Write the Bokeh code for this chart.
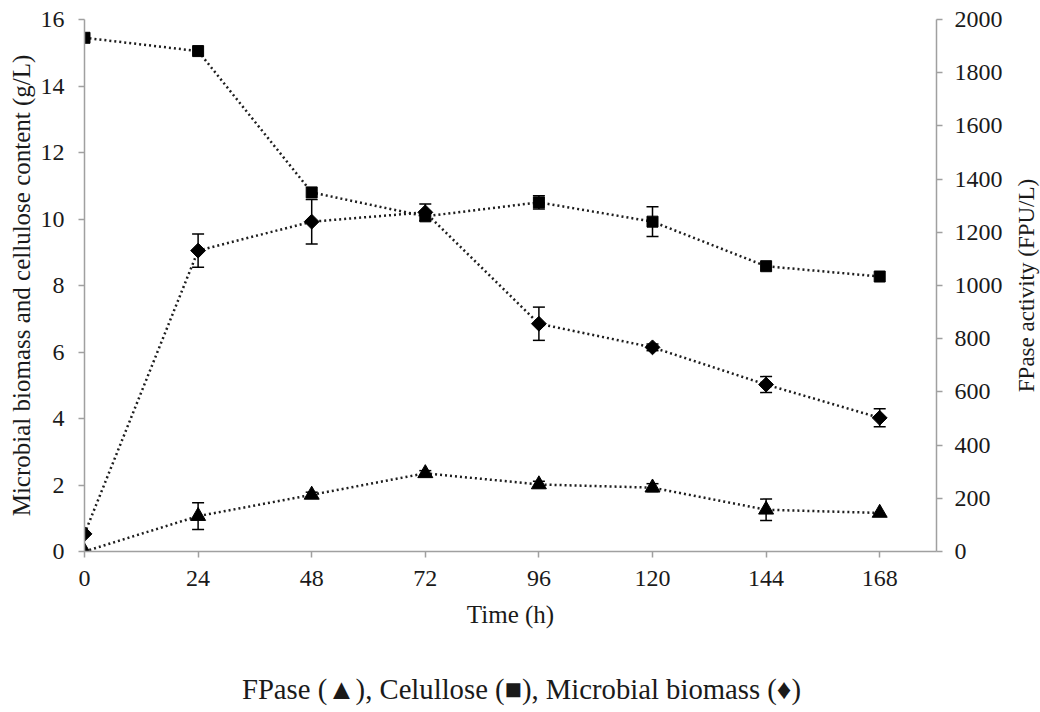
import math
from bokeh.plotting import figure
from bokeh.models import (Range1d, LinearAxis, FixedTicker, Whisker, TeeHead,
                          ColumnDataSource, Label)
from bokeh.embed import file_html
from bokeh.resources import INLINE

# ---------------- data ----------------
hours = [0, 24, 48, 72, 96, 120, 144, 168]
x_ticks = [0, 24, 48, 72, 96, 120, 144, 168]
left_ticks = [0, 2, 4, 6, 8, 10, 12, 14, 16]
right_ticks = [0, 200, 400, 600, 800, 1000, 1200, 1400, 1600, 1800, 2000]

cellulose = [15.45, 15.05, 10.8, 10.08, 10.5, 9.92, 8.58, 8.27]
cellulose_err = [0, 0, 0, 0, 0.2, 0.45, 0, 0]

biomass = [0.53, 9.05, 9.92, 10.2, 6.85, 6.14, 5.02, 4.02]
biomass_err = [0, 0.5, 0.67, 0.25, 0.5, 0.1, 0.24, 0.27]

fpase = [0, 133, 213, 294, 252, 240, 157, 145]
fpase_err = [0, 50, 10, 10, 12, 15, 40, 0]

x_title = "Time (h)"
left_title = "Microbial biomass and cellulose content (g/L)"
right_title = "FPase activity (FPU/L)"
caption = "FPase (\u25b2), Celullose (\u25a0), Microbial biomass (\u2666)"

FONT = "Liberation Serif"
AXIS_COLOR = "#a0a0a0"
LINE_COLOR = "#1e1e1e"
TEXT_COLOR = "#1a1a1a"

p = figure(width=1040, height=708, output_backend="svg", toolbar_location=None,
           x_range=Range1d(0, 180), y_range=Range1d(0, 16),
           min_border_left=84, min_border_right=104, min_border_top=19,
           min_border_bottom=157)
p.outline_line_color = None
p.grid.visible = False
p.background_fill_color = "white"
p.border_fill_color = "white"

p.xaxis.ticker = FixedTicker(ticks=x_ticks)
p.yaxis.ticker = FixedTicker(ticks=left_ticks)

p.extra_y_ranges = {"fp": Range1d(0, 2000)}
raxis = LinearAxis(y_range_name="fp", ticker=FixedTicker(ticks=right_ticks))
p.add_layout(raxis, "right")

for ax in p.axis:
    ax.axis_line_color = AXIS_COLOR
    ax.axis_line_width = 1.5
    ax.major_tick_line_color = AXIS_COLOR
    ax.major_tick_line_width = 1.5
    ax.major_tick_in = 0
    ax.major_tick_out = 6
    ax.minor_tick_line_color = None
    ax.major_label_text_font = FONT
    ax.major_label_text_font_size = "24px"
    ax.major_label_text_color = TEXT_COLOR
    ax.axis_label_text_font = FONT
    ax.axis_label_text_font_style = "normal"
    ax.axis_label_text_color = TEXT_COLOR

p.xaxis.major_label_standoff = 13
p.xaxis.axis_label = x_title
p.xaxis.axis_label_text_font_size = "25px"
p.xaxis.axis_label_standoff = 12

p.yaxis[0].major_label_standoff = 14
p.yaxis[0].axis_label = left_title
p.yaxis[0].axis_label_text_font_size = "25px"
p.yaxis[0].axis_label_standoff = 3

raxis.major_label_standoff = 12

# right-hand title, reading bottom to top, in its own side panel
rlabel = Label(x=21, y=266, x_units="screen", y_units="screen",
               text=right_title, angle=math.pi / 2, text_font=FONT,
               text_font_size="23px", text_color=TEXT_COLOR,
               text_align="center", text_baseline="middle")
p.add_layout(rlabel, "right")

# ---------------- series ----------------
p.line(hours, cellulose, line_dash="2 3", line_width=2.5, color=LINE_COLOR)
p.line(hours, biomass, line_dash="2 3", line_width=2.5, color=LINE_COLOR)
p.line(hours, fpase, line_dash="2 3", line_width=2.5, color=LINE_COLOR,
       y_range_name="fp")


def add_whisker(vals, errs, yname="default"):
    base = [h for h, e in zip(hours, errs) if e > 0]
    up = [v + e for v, e in zip(vals, errs) if e > 0]
    lo = [v - e for v, e in zip(vals, errs) if e > 0]
    src = ColumnDataSource(dict(base=base, upper=up, lower=lo))
    w = Whisker(source=src, base="base", upper="upper", lower="lower",
                line_color="black", line_width=1.5,
                upper_head=TeeHead(size=12, line_width=1.5, line_color="black"),
                lower_head=TeeHead(size=12, line_width=1.5, line_color="black"),
                y_range_name=yname)
    p.add_layout(w)


add_whisker(cellulose, cellulose_err)
add_whisker(biomass, biomass_err)
add_whisker(fpase, fpase_err, "fp")

p.scatter(hours, cellulose, marker="square", size=11, color="black")
p.scatter(hours, biomass, marker="square", angle=math.pi / 4, size=10.5,
          color="black")
p.scatter(hours, fpase, marker="triangle", size=15, color="black",
          y_range_name="fp")

# ---------------- caption ----------------
cap = Label(x=437, y=-26, x_units="screen", y_units="screen", text=caption,
            text_font=FONT, text_font_size="28.7px", text_color=TEXT_COLOR,
            text_align="center", text_baseline="middle")
p.add_layout(cap, "below")

open("out.html", "w").write(file_html(p, INLINE))
